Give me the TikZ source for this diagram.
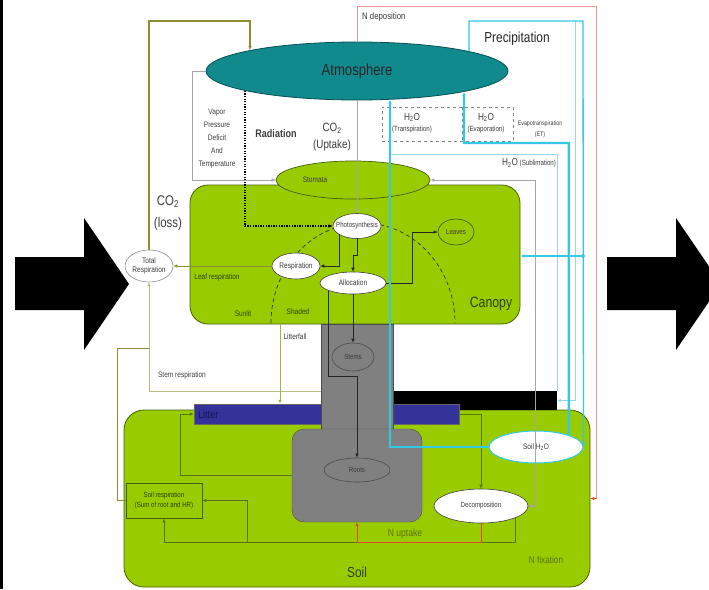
\documentclass[tikz,border=0pt]{standalone}
\usepackage{fontspec}
\setmainfont{Liberation Sans}[FakeStretch=0.82]
\usepackage{tikz}
\usepackage{xcolor}
\usetikzlibrary{shapes.geometric, arrows.meta, positioning, calc}

\definecolor{canopygreen}{RGB}{153,204,0}
\definecolor{darkolive}{RGB}{70,95,0}
\definecolor{atmteal}{RGB}{16,138,140}
\definecolor{atmedge}{RGB}{10,80,82}
\definecolor{stemgray}{RGB}{128,128,128}
\definecolor{litterblue}{RGB}{51,51,153}
\definecolor{littertext}{RGB}{20,20,90}
\definecolor{h2ocyan}{RGB}{51,200,230}
\definecolor{h2olight}{RGB}{150,215,240}
\definecolor{lossolive}{RGB}{140,140,50}
\definecolor{fallolive}{RGB}{160,180,80}
\definecolor{soilolive}{RGB}{90,115,15}
\definecolor{ndeppink}{RGB}{240,150,150}
\definecolor{nred}{RGB}{230,70,40}
\definecolor{labelgray}{RGB}{60,60,60}
\definecolor{canopytext}{RGB}{45,65,0}

\newcommand{\tightlbl}[1]{\makebox[0pt]{#1}}

\begin{document}
\begin{tikzpicture}[x=1pt, y=-1pt, >={Latex[length=4pt,width=3.5pt]},
    every node/.style={font=\fontsize{8}{9}\selectfont, text=labelgray, inner sep=0pt},
    blob/.style={ellipse, draw=black!75, fill=white, line width=0.6pt},
    greenblob/.style={ellipse, draw=darkolive, fill=canopygreen, line width=0.7pt},
    grayblob/.style={ellipse, draw=black!70, fill=stemgray, line width=0.6pt},
    panel/.style={draw=darkolive, fill=canopygreen, line width=0.8pt},
    flow/.style={draw=black!85, line width=0.6pt},
    grayline/.style={draw=black!35, line width=0.6pt},
    lossline/.style={draw=lossolive, line width=1.3pt},
    leafline/.style={draw=lossolive, line width=0.7pt},
    stemline/.style={draw=lossolive!60, line width=0.7pt},
    fallline/.style={draw=fallolive, line width=0.7pt},
    soilflow/.style={draw=soilolive, line width=0.7pt},
    radline/.style={draw=black, line width=1.4pt, dash pattern=on 1.3pt off 1.3pt},
    nline/.style={draw=nred, line width=0.8pt},
    ndepline/.style={draw=ndeppink, line width=0.8pt},
    waterthick/.style={draw=h2ocyan, line width=2.2pt},
    watermid/.style={draw=h2ocyan, line width=1.3pt},
    waterthin/.style={draw=h2olight, line width=0.8pt},
    lbl/.style={text=labelgray}]
\useasboundingbox (0,0) rectangle (709,589);

% turning points
\coordinate (lossTop) at (149,21);
\coordinate (grayTurn) at (535,180);
\coordinate (stemBend) at (357,376);
\coordinate (stemOut) at (321,391);
\coordinate (soilRespJoin) at (149,348);
\coordinate (fallTop) at (280,324);
\coordinate (loopCorner) at (164,542);
\coordinate (loopBranch) at (247,542);
\coordinate (uptakeTurn) at (357,542);
\coordinate (evapTurn) at (464,143);
\coordinate (precipCorner) at (583,21);
\coordinate (precipDot) at (583,256);
\coordinate (snowTop) at (575,21);
\coordinate (sublimStart) at (390,154);
\coordinate (ndepCorner) at (596,6);
\coordinate (etsplit) at (462,0);

% side arrows
\fill[black] (0,0) rectangle (3,589);
\fill[black] (15,257) -- (84,257) -- (84,218) -- (129,284) -- (84,350) -- (84,310) -- (15,310) -- cycle;
\begin{scope}
  \clip (0,0) rectangle (709,589);
  \fill[black] (607,257) -- (676,257) -- (676,218) -- (721,284) -- (676,350) -- (676,310) -- (607,310) -- cycle;
\end{scope}

% blocks
\node[panel, rounded corners=18pt, minimum width=330pt, minimum height=139pt] (canopy) at (355,254.5) {};
\node[panel, rounded corners=20pt, minimum width=466pt, minimum height=177pt] (soil) at (357,498.5) {};
\node[fill=black, minimum width=163pt, minimum height=19pt] (snowbar) at (475.5,400.5) {};
\node[fill=litterblue, draw=black!60, minimum width=265pt, minimum height=20pt] (litter) at (326.5,414) {};
\node[fill=stemgray, draw=black!70, minimum width=72pt, minimum height=106pt] (stem) at (357,377) {};
\node[fill=stemgray, draw=black!70, rounded corners=12pt, minimum width=130pt, minimum height=93pt] (rootbox) at (357,475.5) {};

% sunlit / shaded
\draw[black!80, line width=0.7pt, dash pattern=on 4pt off 3pt] plot[domain=180:360, samples=60] ({363+92*cos(\x)},{323+100*sin(\x)});

\node[draw=black!50, dashed, minimum width=131pt, minimum height=34pt] (etbox) at (447.5,124) {};
\draw[black!50, dashed] (etbox.north -| etsplit) -- (etbox.south -| etsplit);

% ellipses
\node[ellipse, draw=atmedge, fill=atmteal, line width=0.8pt, minimum width=302pt, minimum height=58pt, font=\fontsize{16}{18}\selectfont, text=black!85] (atm) at (357,71) {Atmosphere};
\node[greenblob, minimum width=154pt, minimum height=38pt] (stomata) at (353,180) {};
\node (stomataText) at (315,180) {Stomata};
\node[blob, minimum width=48pt, minimum height=25pt, font=\fontsize{7.5}{8}\selectfont] (photo) at (357,226) {\tightlbl{Photosynthesis}};
\node[blob, minimum width=48pt, minimum height=26pt] (resp) at (296,266) {\tightlbl{Respiration}};
\node[blob, minimum width=66pt, minimum height=22pt] (alloc) at (353,283) {\tightlbl{Allocation}};
\node[greenblob, minimum width=36pt, minimum height=26pt, font=\fontsize{7.5}{8}\selectfont] (leaves) at (456,232) {\tightlbl{Leaves}};
\node[grayblob, minimum width=42pt, minimum height=28pt, font=\fontsize{7.5}{8}\selectfont] (stems) at (353,357) {\tightlbl{Stems}};
\node[grayblob, minimum width=66pt, minimum height=24pt, font=\fontsize{7.5}{8}\selectfont] (roots) at (357,470) {\tightlbl{Roots}};
\node[blob, draw=h2ocyan, line width=1pt, minimum width=94pt, minimum height=32pt] (soilwater) at (536,447) {\tightlbl{Soil H\textsubscript{2}O}};
\node[blob, minimum width=94pt, minimum height=34pt, font=\fontsize{7.5}{8}\selectfont] (decomp) at (481,506) {\tightlbl{Decomposition}};
\node[ellipse, draw=black!45, fill=white, line width=0.6pt, minimum width=48pt, minimum height=32pt, align=center] (totresp) at (149,266) {\tightlbl{Total}\\\tightlbl{Respiration}};
\node[draw=darkolive, fill=canopygreen, line width=0.8pt, minimum width=76pt, minimum height=35pt, align=center, font=\fontsize{7.5}{10}\selectfont, text=canopytext] (soilresp) at (164,500.5) {Soil respiration\\(Sum of root and HR)};

% carbon
\draw[lossline, ->] (totresp.north) -- (lossTop) -| (atm.169.2);
\draw[grayline, ->] (atm.west) -- ++(-13,0) |- (stomata.west);
\draw[radline, ->] (atm.190.8) |- (photo.west);
\draw[grayline, ->] (atm.south) -- (photo.north);
\draw[grayline, <->] (stomata.east) -- (grayTurn) |- (decomp.east);
\draw[flow, ->] (photo.205) |- (resp.east);
\draw[flow, ->] (photo.south) -- ++(0,16) -| (alloc.north);
\draw[flow, ->] (alloc.east) -- ++(26,0) |- (leaves.west);
\draw[flow, ->] (alloc.south) -- (stems.north);
\draw[flow, ->] (alloc.197) |- (stemBend) -- (roots.north);
\draw[leafline, ->] (resp.west) -- (totresp.east);
\draw[stemline, ->] (stemOut) -| (totresp.south);
\draw[leafline] (soilresp.west) -- ++(-8,0) |- (soilRespJoin);
\draw[fallline, ->] (fallTop) -- (fallTop |- litter.north);
\draw[soilflow, ->] (rootbox.west) -- ++(-111,0) |- (litter.west);
\draw[soilflow, ->] (litter.east) -| (decomp.north);
\draw[soilflow, ->] (decomp.341) |- (loopCorner) -- (soilresp.south);
\draw[soilflow, ->] (loopBranch) |- (soilresp.east);

% nitrogen
\draw[nline, ->] (decomp.south) |- (uptakeTurn) -- (rootbox.south);
\draw[ndepline] (atm.north) |- (ndepCorner) |- (soil.east);
\draw[nline, ->] ($(soil.east)+(6,0)$) -- (soil.east);

% water
\draw[waterthin] (sublimStart) -| (snowbar.north east);
\draw[waterthin, ->] (snowTop) |- (snowbar.east);
\draw[watermid, ->] (atm.10.8) |- (precipCorner) -- (soilwater.east);
\draw[watermid, ->] (precipDot) -- (precipDot -| canopy.east);
\fill[h2ocyan] (precipDot) circle (2pt);
\draw[waterthick, ->] (soilwater.west) -| (atm.319.4);
\draw[waterthick, ->] (soilwater.20) |- (evapTurn) -- (atm.349.2);

% labels
\node[align=center, font=\fontsize{8}{13}\selectfont] (vpdText) at (217,139) {Vapor\\Pressure\\Deficit\\And\\Temperature};
\node[font=\bfseries\fontsize{11}{13}\selectfont] (radText) at (276,134) {Radiation};
\node[align=center, font=\fontsize{12}{17}\selectfont] (uptakeText) at (332,137) {CO\textsubscript{2}\\(Uptake)};
\node[align=center, font=\fontsize{14}{22}\selectfont] (lossText) at (168,213) {CO\textsubscript{2}\\(loss)};
\node[text=canopytext] (leafRespText) at (217,277) {Leaf respiration};
\node[text=canopytext] (sunlitText) at (243,314) {Sunlit};
\node[text=canopytext] (shadedText) at (298,312) {Shaded};
\node[font=\fontsize{15}{17}\selectfont, text=canopytext] (canopyText) at (491,304) {Canopy};
\node (fallText) at (295,337) {Litterfall};
\node (stemRespText) at (182,375) {Stem respiration};
\node[anchor=west, font=\fontsize{11}{12}\selectfont, text=littertext] (litterText) at (198,415) {Litter};
\node[font=\fontsize{10.5}{12}\selectfont, text=soilolive] (uptakeNText) at (405,534) {N uptake};
\node[font=\fontsize{10}{12}\selectfont, text=soilolive] (fixText) at (546,560) {N fixation};
\node[font=\fontsize{14.5}{16}\selectfont, text=canopytext] (soilText) at (357,572) {Soil};
\node[anchor=west, font=\fontsize{9.5}{11}\selectfont] (ndepText) at (362,17) {N deposition};
\node[font=\fontsize{14.5}{16}\selectfont, text=black!85] (precipText) at (517,39) {Precipitation};
\node[align=center, font=\fontsize{7.5}{11}\selectfont] (transpText) at (412,123) {{\fontsize{10}{11}\selectfont H\textsubscript{2}O}\\(Transpiration)};
\node[align=center, font=\fontsize{7.5}{11}\selectfont] (evapText) at (486,123) {{\fontsize{10}{11}\selectfont H\textsubscript{2}O}\\(Evaporation)};
\node[align=center, font=\fontsize{6.5}{11}\selectfont] (etText) at (540,129) {Evapotranspiration\\(ET)};
\node[font=\fontsize{7.5}{11}\selectfont] (sublimText) at (529,163) {{\fontsize{10}{11}\selectfont H\textsubscript{2}O} (Sublimation)};
\end{tikzpicture}
\end{document}
